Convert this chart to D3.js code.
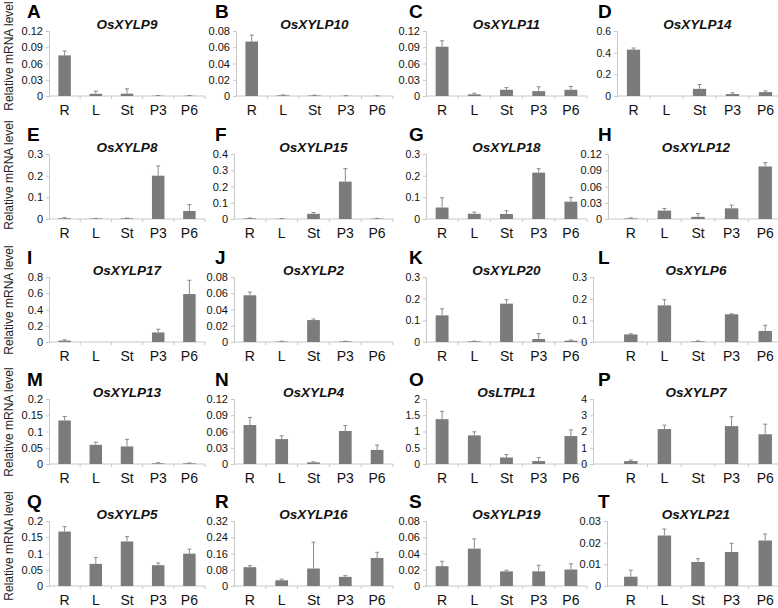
<!DOCTYPE html>
<html><head><meta charset="utf-8">
<script src="https://cdnjs.cloudflare.com/ajax/libs/d3/7.8.5/d3.min.js"></script>
<style>body{margin:0;background:#fff}svg{display:block}</style>
</head><body>
<script>
const categories = ["R","L","St","P3","P6"];
const panelLetters = ["A","B","C","D","E","F","G","H","I","J","K","L","M","N","O","P","Q","R","S","T"];
const geneNames = ["OsXYLP9","OsXYLP10","OsXYLP11","OsXYLP14","OsXYLP8","OsXYLP15","OsXYLP18","OsXYLP12",
  "OsXYLP17","OsXYLP2","OsXYLP20","OsXYLP6","OsXYLP13","OsXYLP4","OsLTPL1","OsXYLP7",
  "OsXYLP5","OsXYLP16","OsXYLP19","OsXYLP21"];
const yMax  = [0.12,0.08,0.12,0.6, 0.3,0.4,0.3,0.12, 0.8,0.08,0.3,0.3, 0.2,0.12,2,4, 0.2,0.32,0.08,0.03];
const yStep = [0.03,0.02,0.03,0.2, 0.1,0.1,0.1,0.03, 0.2,0.02,0.1,0.1, 0.05,0.03,0.5,1, 0.05,0.08,0.02,0.01];
const means = [
  [0.075,0.004,0.0043,0.0005,0.0004],
  [0.067,0.0008,0.0006,0.0002,0.0001],
  [0.091,0.003,0.0115,0.009,0.0115],
  [0.428,0,0.066,0.018,0.036],
  [0.003,0.002,0.003,0.2,0.037],
  [0.004,0.001,0.032,0.23,0.002],
  [0.053,0.024,0.023,0.214,0.08],
  [0.001,0.0155,0.004,0.0197,0.097],
  [0.017,0,0,0.117,0.59],
  [0.0575,0.0005,0.027,0.0007,0],
  [0.123,0.003,0.177,0.014,0.006],
  [0.035,0.169,0.003,0.128,0.051],
  [0.134,0.059,0.054,0.002,0.002],
  [0.072,0.046,0.003,0.061,0.026],
  [1.38,0.88,0.2,0.09,0.86],
  [0.18,2.15,0,2.33,1.83],
  [0.1675,0.068,0.137,0.064,0.0995],
  [0.0926,0.028,0.086,0.045,0.138],
  [0.0244,0.046,0.018,0.018,0.0203],
  [0.0043,0.0233,0.0111,0.0157,0.021]
];
const errors = [
  [0.008,0.005,0.009,0.0005,0.0004],
  [0.008,0.0005,0.0004,0.0002,0.0001],
  [0.011,0.002,0.004,0.008,0.006],
  [0.015,0,0.04,0.012,0.012],
  [0.003,0.001,0.001,0.045,0.03],
  [0.002,0.001,0.008,0.08,0.002],
  [0.045,0.008,0.015,0.018,0.02],
  [0.001,0.004,0.006,0.006,0.007],
  [0.01,0,0,0.04,0.17],
  [0.004,0.0005,0.0013,0.0003,0],
  [0.03,0.001,0.018,0.025,0.003],
  [0.003,0.026,0.002,0.002,0.026],
  [0.012,0.008,0.022,0.002,0.001],
  [0.014,0.006,0.001,0.01,0.009],
  [0.24,0.11,0.09,0.11,0.19],
  [0.06,0.24,0,0.58,0.62],
  [0.015,0.02,0.015,0.007,0.014],
  [0.007,0.006,0.13,0.006,0.028],
  [0.006,0.012,0.0015,0.0075,0.007],
  [0.003,0.003,0.0015,0.004,0.003]
];
const yLabel = "Relative mRNA level";

// layout (pixels)
const W = 778, H = 608;
const rowZero = [96, 219, 342, 464, 586];
const plotH = 65;
const axisLeft = [
  49,236,426,617,
  49,234,426,608,
  49,234,426,593,
  49,234,426,593,
  49,234,426,607];
const bandStart = [0, 0, 0, 614];
const colRight = [205, 393, 587, 782];
const letterX = [27, 215, 409, 598];
const labelShift = [56, 175, 300, 422, 546];
const narrowFont = new Set(["D","G","K","L","O","P"]);

const svg = d3.select("body").append("svg").attr("width", W).attr("height", H)
  .style("font-family", "'Liberation Sans', Arial, sans-serif");

const axisColor = "#c8c8c8", barColor = "#7b7b7b";

rowZero.forEach((z, r) => {
  svg.append("text")
    .attr("transform", `translate(13,${labelShift[r]}) rotate(-90)`)
    .attr("text-anchor", "middle")
    .attr("font-size", 12)
    .attr("fill", "#222")
    .text(yLabel);
});

panelLetters.forEach((letter, i) => {
  const r = Math.floor(i / 4), c = i % 4;
  const z = rowZero[r];
  const x0 = axisLeft[i], x1 = colRight[c];
  const bx0 = Math.max(x0, bandStart[c]);
  const x = d3.scaleBand().domain(categories).range([bx0, x1]).paddingInner(0).paddingOuter(0);
  const y = d3.scaleLinear().domain([0, yMax[i]]).range([z, z - plotH]);
  const g = svg.append("g");

  // letter
  g.append("text").attr("x", letterX[c]).attr("y", z - 78)
    .attr("font-size", 19).attr("font-weight", "bold").attr("fill", "#000").text(letter);
  // title
  g.append("text").attr("x", (bx0 + Math.min(x1, W)) / 2).attr("y", z - plotH - 2)
    .attr("text-anchor", "middle").attr("font-size", 13.5).attr("font-weight", "bold")
    .attr("font-style", "italic").attr("fill", "#111").text(geneNames[i]);

  // y axis
  const ticks = d3.range(0, yMax[i] + yStep[i] / 2, yStep[i]);
  const fmt = v => String(+v.toFixed(4));
  const yAxis = d3.axisLeft(y).tickValues(ticks).tickFormat(fmt).tickSize(3).tickPadding(3);
  const ya = g.append("g").attr("transform", `translate(${x0},0)`).call(yAxis);
  ya.select(".domain").attr("stroke", axisColor);
  ya.selectAll(".tick line").attr("stroke", axisColor);
  ya.selectAll(".tick text").attr("fill", "#111")
    .attr("font-size", narrowFont.has(letter) ? 10.5 : 11)
    .style("font-family", narrowFont.has(letter) ? "'Liberation Sans Narrow','Liberation Sans',Arial" : null);

  // x axis baseline
  g.append("line").attr("x1", x0).attr("x2", x1).attr("y1", z).attr("y2", z).attr("stroke", axisColor);
  // boundary ticks
  g.selectAll("line.bt").data(categories.slice(1)).join("line")
    .attr("x1", d => x(d)).attr("x2", d => x(d))
    .attr("y1", z).attr("y2", z + 3).attr("stroke", axisColor);
  g.append("line").attr("x1", x1).attr("x2", x1).attr("y1", z).attr("y2", z + 3).attr("stroke", axisColor);
  // category labels
  g.selectAll("text.cat").data(categories).join("text")
    .attr("x", d => x(d) + x.bandwidth() / 2).attr("y", z + 19)
    .attr("text-anchor", "middle").attr("font-size", 14).attr("fill", "#111").text(d => d);

  const bw = x.bandwidth() * 0.4;
  const data = categories.map((c2, k) => ({c: c2, v: means[i][k], e: errors[i][k]}));
  // error bars
  data.forEach(d => {
    if (d.e <= 0 && d.v <= 0) return;
    const cx = x(d.c) + x.bandwidth() / 2;
    g.append("line").attr("x1", cx).attr("x2", cx)
      .attr("y1", y(d.v)).attr("y2", y(d.v + d.e)).attr("stroke", "#8a8a8a").attr("stroke-width", 1);
    g.append("line").attr("x1", cx - 2).attr("x2", cx + 2)
      .attr("y1", y(d.v + d.e)).attr("y2", y(d.v + d.e)).attr("stroke", "#8a8a8a").attr("stroke-width", 1);
  });
  g.selectAll("rect.bar").data(data).join("rect")
    .attr("x", d => x(d.c) + (x.bandwidth() - bw) / 2)
    .attr("width", bw)
    .attr("y", d => y(d.v))
    .attr("height", d => z - y(d.v))
    .attr("fill", barColor);
});
</script>
</body></html>
